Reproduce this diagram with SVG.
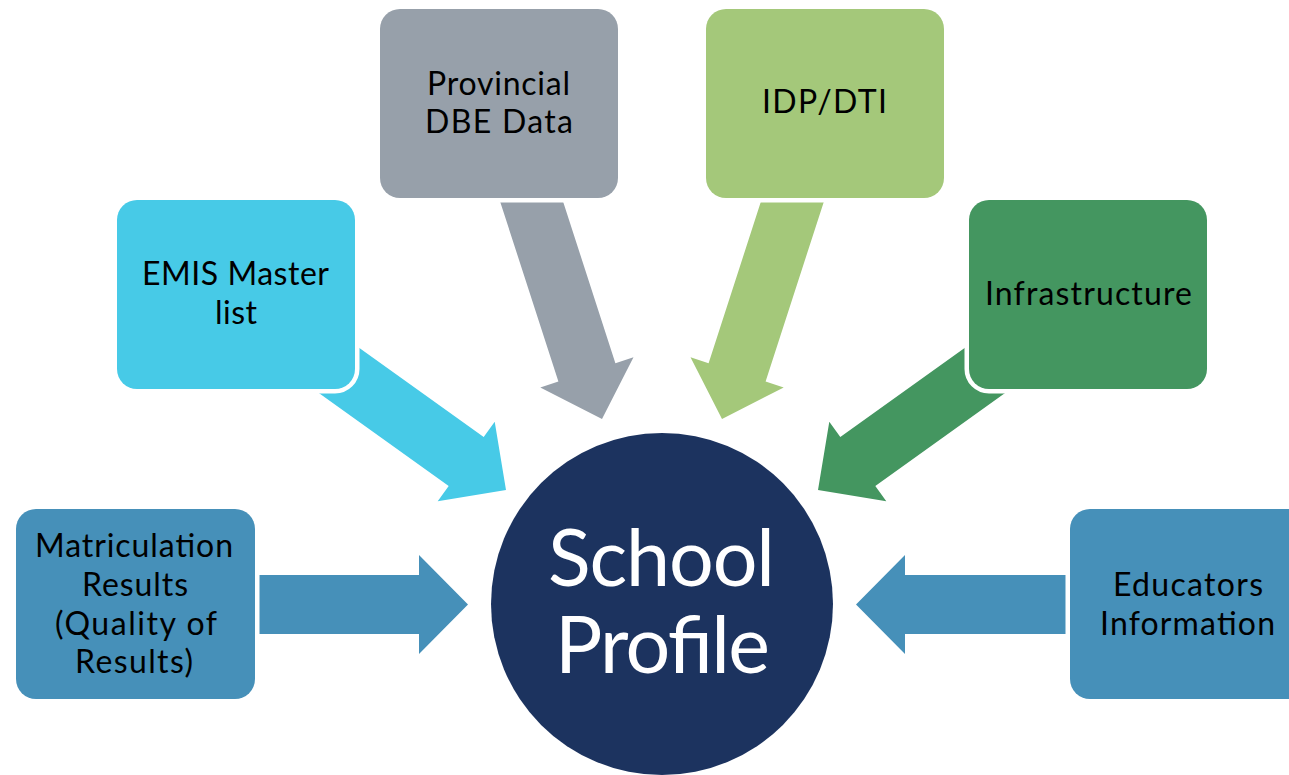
<svg xmlns="http://www.w3.org/2000/svg" width="1289" height="775" viewBox="0 0 1289 775">
  <style>
    .box { stroke: #ffffff; stroke-width: 9; paint-order: stroke; }
    .lbl { font-family: Lato, "Open Sans", "Liberation Sans", sans-serif; font-size: 32px; fill: #000000; text-anchor: middle; }
    .hub { font-family: Lato, "Open Sans", "Liberation Sans", sans-serif; font-size: 79px; fill: #ffffff; text-anchor: middle; }
    .steel { fill: #4690B9; }
    .cyan { fill: #47CAE7; }
    .grey { fill: #97A0AA; }
    .lime { fill: #A4C87A; }
    .green { fill: #449660; }
  </style>
  <rect width="1289" height="775" fill="#ffffff"/>

  <!-- block arrows feeding the central circle -->
  <g id="connectors">
    <polygon class="steel" points="240,575 419,575 419,555 468,604.5 419,654 419,634 240,634"/>
    <polygon class="steel" points="1084,575 905,575 905,555 856,604.5 905,654 905,634 1084,634"/>
    <polygon class="cyan" points="320.3,320.1 483.7,437.1 494.7,421.7 506,490 437.7,501.3 448.7,485.9 285.3,368.9"/>
    <polygon class="green" points="1003.7,320.1 840.3,437.1 829.3,421.7 818,490 886.3,501.3 875.3,485.9 1038.7,368.9"/>
    <polygon class="grey" points="553.5,172 615.4,363.2 633.5,357.3 602,419 540.3,387.5 558.4,381.6 496.5,190.4"/>
    <polygon class="lime" points="770.5,172 708.6,363.2 690.5,357.3 722,419 783.7,387.5 765.6,381.6 827.5,190.4"/>
  </g>

  <g id="matriculation">
    <rect class="box steel" x="16" y="509" width="239" height="190" rx="20"/>
    <text class="lbl" x="134" y="557" textLength="198">Matriculation</text>
    <text class="lbl" x="135" y="596" textLength="106">Results</text>
    <text class="lbl" x="136" y="635" textLength="162">(Quality of</text>
    <text class="lbl" x="134" y="673" textLength="118">Results)</text>
  </g>

  <g id="emis">
    <rect class="box cyan" x="117" y="200" width="238" height="189" rx="20"/>
    <text class="lbl" x="235.5" y="285" textLength="187">EMIS Master</text>
    <text class="lbl" x="236" y="324" textLength="42">list</text>
  </g>

  <g id="provincial">
    <rect class="box grey" x="380" y="9" width="238" height="189" rx="20"/>
    <text class="lbl" x="498.5" y="95" textLength="143">Provincial</text>
    <text class="lbl" x="499" y="133" textLength="148">DBE Data</text>
  </g>

  <g id="idp">
    <rect class="box lime" x="706" y="9" width="238" height="189" rx="20"/>
    <text class="lbl" x="824.5" y="113" textLength="125">IDP/DTI</text>
  </g>

  <g id="infrastructure">
    <rect class="box green" x="969" y="200" width="238" height="189" rx="20"/>
    <text class="lbl" x="1088.5" y="305" textLength="207">Infrastructure</text>
  </g>

  <g id="educators">
    <rect class="box steel" x="1070" y="509" width="239" height="190" rx="20"/>
    <text class="lbl" x="1188" y="596" textLength="150">Educators</text>
    <text class="lbl" x="1187.5" y="635" textLength="175">Information</text>
  </g>

  <g id="school-profile">
    <circle cx="662" cy="604" r="171" fill="#1C335F"/>
    <text class="hub" x="661.5" y="586" textLength="227">School</text>
    <text class="hub" x="662.5" y="673" textLength="215">Profile</text>
  </g>
</svg>
